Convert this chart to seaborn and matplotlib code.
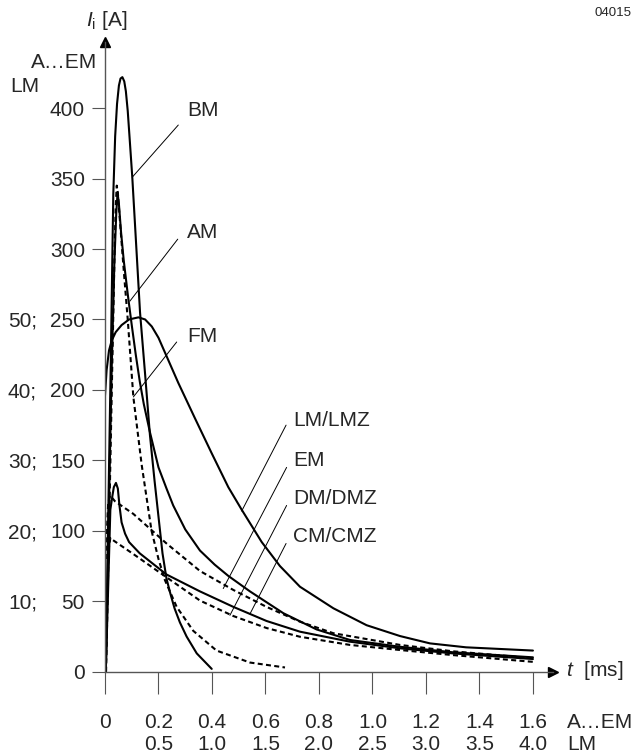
import numpy as np
import pandas as pd
import matplotlib
matplotlib.use("Agg")
import matplotlib.pyplot as plt
import matplotlib.transforms as mtransforms
import seaborn as sns

# inrush current curves
# t in ms on the A...EM time scale, I in A on the A...EM current scale
bm_t = [0.003, 0.012, 0.022, 0.031, 0.038, 0.045, 0.052, 0.058, 0.065, 0.072, 0.078, 0.085,
        0.093, 0.102, 0.112, 0.131, 0.150, 0.168, 0.185, 0.200, 0.215, 0.230, 0.245, 0.260,
        0.280, 0.305, 0.343, 0.399]
bm_i = [0, 110, 225, 339, 380, 403, 416, 421, 422, 419, 412, 398,
        376, 351, 318, 255, 211, 168, 136, 110, 84, 66, 55, 45,
        35, 25, 13, 2]

am_t = [0.003, 0.014, 0.025, 0.035, 0.042, 0.047, 0.052, 0.060, 0.070, 0.085, 0.100, 0.115,
        0.130, 0.145, 0.168, 0.200, 0.230, 0.255, 0.300, 0.355, 0.410, 0.461, 0.542, 0.667,
        0.791, 0.916, 1.103, 1.300, 1.600]
am_i = [0, 110, 215, 290, 325, 340, 332, 312, 292, 268, 246, 225,
        206, 190, 170, 145, 130, 118, 101, 86, 76, 68, 57, 41.5,
        30, 22.5, 17.7, 13.8, 10.2]

fm_t = [0.004, 0.016, 0.028, 0.036, 0.040, 0.044, 0.048, 0.055, 0.070, 0.085, 0.106, 0.137,
        0.174, 0.200, 0.224, 0.268, 0.330, 0.417, 0.542, 0.673]
fm_i = [0, 110, 225, 300, 330, 345, 340, 322, 285, 250, 195, 147,
        100, 80, 65, 46, 29, 15, 6.5, 3]

lm_t = [0.000, 0.006, 0.015, 0.025, 0.040, 0.062, 0.090, 0.125, 0.150, 0.175, 0.200, 0.237,
        0.274, 0.336, 0.399, 0.461, 0.511, 0.586, 0.654, 0.729, 0.854, 0.978, 1.103, 1.215,
        1.350, 1.600]
lm_i = [196, 214, 228, 235, 241, 246, 250, 251.5, 250, 245, 237, 221,
        205, 180, 155, 131, 115, 92, 75, 60.3, 45, 33, 25.3, 20.1,
        17.3, 15]

em_t = [0.002, 0.012, 0.020, 0.037, 0.106, 0.230, 0.355, 0.480, 0.604, 0.729, 0.854, 1.103,
        1.300, 1.600]
em_i = [80, 120, 125, 121, 112, 91, 71.5, 58, 46, 35.5, 27.3, 19,
        14.5, 9.6]

dm_t = [0.008, 0.020, 0.025, 0.106, 0.230, 0.355, 0.480, 0.604, 0.729, 0.916, 1.103, 1.300,
        1.600]
dm_i = [80, 95, 94, 83.5, 67, 50.5, 39.5, 31, 24.8, 19, 15.4, 11.8,
        7]

cm_t = [0.003, 0.020, 0.027, 0.033, 0.041, 0.048, 0.054, 0.062, 0.075, 0.090, 0.130, 0.230,
        0.355, 0.480, 0.604, 0.729, 0.916, 1.103, 1.300, 1.600]
cm_i = [0, 115, 124, 131, 134, 130, 118, 106, 98, 92, 84, 69,
        57, 46, 36, 28.4, 21.3, 16.6, 13, 9]

curve_names = ["BM", "AM", "FM", "LM/LMZ", "EM", "DM/DMZ", "CM/CMZ"]
dashed_curves = ["FM", "EM", "DM/DMZ"]

# axis scales: A...EM and LM share the drawing
x_ticks = [0, 0.2, 0.4, 0.6, 0.8, 1.0, 1.2, 1.4, 1.6]
x_labels_aem = ["0", "0.2", "0.4", "0.6", "0.8", "1.0", "1.2", "1.4", "1.6"]
x_labels_lm = ["", "0.5", "1.0", "1.5", "2.0", "2.5", "3.0", "3.5", "4.0"]
y_ticks = [0, 50, 100, 150, 200, 250, 300, 350, 400]
y_labels_aem = ["0", "50", "100", "150", "200", "250", "300", "350", "400"]
y_labels_lm = ["", "10;", "20;", "30;", "40;", "50;", "", "", ""]

df = pd.concat([
    pd.DataFrame({"t": t, "i": i, "curve": name})
    for name, t, i in zip(curve_names,
                          [bm_t, am_t, fm_t, lm_t, em_t, dm_t, cm_t],
                          [bm_i, am_i, fm_i, lm_i, em_i, dm_i, cm_i])
], ignore_index=True)

sns.set_theme(style="white")
plt.rcParams["font.family"] = ["Liberation Sans", "DejaVu Sans"]
plt.rcParams["mathtext.fontset"] = "custom"
plt.rcParams["mathtext.rm"] = "Liberation Sans"
plt.rcParams["mathtext.it"] = "Liberation Sans:italic"

W, H = 643, 755
def fx(px):
    return px / W
def fy(py):
    return 1 - py / H

axis_col = "#555555"
fs = 15

fig = plt.figure(figsize=(W / 100, H / 100), dpi=100)
ax = fig.add_axes([fx(105), fy(671.7), (553 - 105) / W, (671.7 - 41.9) / H])

sns.lineplot(data=df, x="t", y="i", hue="curve", style="curve",
             palette={n: "black" for n in curve_names},
             dashes={n: ((2.4, 1.6) if n in dashed_curves else "") for n in curve_names},
             sort=False, estimator=None, legend=False, lw=1.5, ax=ax)

ax.set_xlim(0, 1.675)
ax.set_ylim(0, 447)
ax.set_xlabel("")
ax.set_ylabel("")
for s in ["top", "right"]:
    ax.spines[s].set_visible(False)
for s in ["left", "bottom"]:
    ax.spines[s].set_color(axis_col)
    ax.spines[s].set_linewidth(1.0)
ax.plot(1, 0, ">", color="black", ms=7, transform=ax.transAxes, clip_on=False)
ax.plot(0, 1, "^", color="black", ms=7, transform=ax.transAxes, clip_on=False)

ax.set_yticks(y_ticks, labels=y_labels_aem)
ax.tick_params(axis="y", direction="out", length=9.4, width=0.8, color=axis_col,
               pad=5, labelsize=fs, left=True)
ax.set_xticks(x_ticks, labels=[])
ax.tick_params(axis="x", direction="out", length=15.8, width=0.8, color=axis_col,
               bottom=True)

# two rows of time labels under the axis
xrow = mtransforms.blended_transform_factory(ax.transData, fig.transFigure)
for t, a, b in zip(x_ticks, x_labels_aem, x_labels_lm):
    ax.text(t, fy(728), a, transform=xrow, ha="center", va="baseline", fontsize=fs)
    ax.text(t, fy(750), b, transform=xrow, ha="center", va="baseline", fontsize=fs)
fig.text(fx(567), fy(728), "A…EM", ha="left", va="baseline", fontsize=fs)
fig.text(fx(567), fy(750), "LM", ha="left", va="baseline", fontsize=fs)

# LM current values left of the A...EM ones
yrow = mtransforms.blended_transform_factory(fig.transFigure, ax.transData)
for v, lab in zip(y_ticks, y_labels_lm):
    ax.text(fx(8), v, lab, transform=yrow, ha="left", va="center_baseline", fontsize=fs)

fig.text(fx(97), fy(62), "A…EM", ha="right", va="center", fontsize=fs)
fig.text(fx(10), fy(87), "LM", ha="left", va="center", fontsize=fs)
fig.text(fx(107), fy(20), r"$I_\mathrm{i}$ [A]", ha="center", va="center", fontsize=fs)
fig.text(fx(566), fy(671), r"$t$  [ms]", ha="left", va="center", fontsize=fs)
fig.text(fx(613), fy(13), "04015", ha="center", va="center", fontsize=9.5)

# curve labels with leader lines: (label, text pos, leader start, leader end)
leaders = [
    ("BM", (0.306, 398), (0.274, 388), (0.102, 351)),
    ("AM", (0.306, 312), (0.272, 307), (0.093, 263)),
    ("FM", (0.306, 238), (0.268, 234), (0.106, 195)),
    ("LM/LMZ", (0.703, 178.6), (0.677, 175), (0.511, 114)),
    ("EM", (0.703, 150), (0.679, 145), (0.442, 59)),
    ("DM/DMZ", (0.703, 123), (0.679, 118), (0.467, 40)),
    ("CM/CMZ", (0.703, 95.8), (0.677, 91), (0.542, 41)),
]
for name, tp, p0, p1 in leaders:
    ax.text(tp[0], tp[1], name, ha="left", va="center", fontsize=fs)
    ax.plot([p0[0], p1[0]], [p0[1], p1[1]], color="black", lw=0.7)

fig.savefig("out.png", dpi=100, facecolor="white")
